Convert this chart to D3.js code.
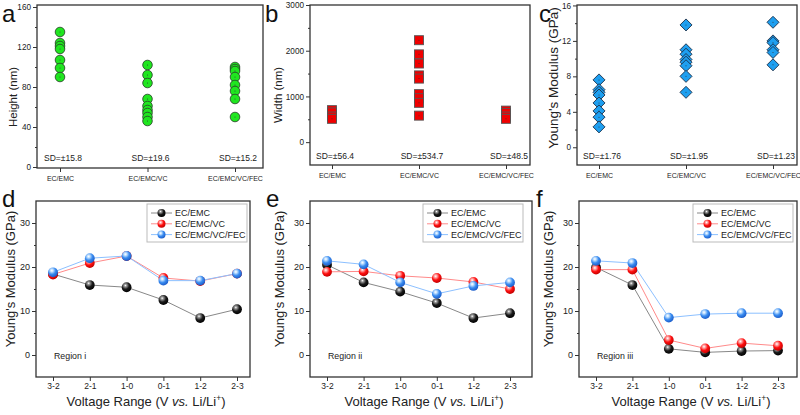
<!DOCTYPE html>
<html><head><meta charset="utf-8">
<script src="https://cdn.jsdelivr.net/npm/d3@7/dist/d3.min.js"></script>
<style>
body{margin:0;background:#fff;}
svg{display:block;font-family:"Liberation Sans",Arial,sans-serif;}
</style></head>
<body>
<svg id="chart" width="800" height="415"></svg>
<script>
// ---------- DATA ----------
const electrolytes = ["EC/EMC", "EC/EMC/VC", "EC/EMC/VC/FEC"];
const heightVals = [
  [135, 124, 121, 118, 107, 99, 90],
  [102, 92, 84, 68, 61, 57, 54, 50, 46],
  [100, 98, 96, 90, 82, 76, 68, 50]
];
const heightSD = ["SD=±15.8", "SD=±19.6", "SD=±15.2"];
const widthVals = [
  [700, 650, 560, 510],
  [2230, 1920, 1720, 1460, 1390, 1050, 960, 860, 580],
  [690, 640, 560, 510]
];
const widthSD = ["SD=±56.4", "SD=±534.7", "SD=±48.5"];
const modulusVals = [
  [7.6, 6.5, 6.2, 5.9, 5.0, 4.1, 3.4, 2.3],
  [13.8, 11.0, 10.5, 9.9, 9.6, 9.2, 8.0, 6.2],
  [14.1, 12.0, 11.8, 11.0, 10.7, 9.3]
];
const modulusSD = ["SD=±1.76", "SD=±1.95", "SD=±1.23"];
const heightTicks = [0, 40, 80, 120, 160];
const widthTicks = [0, 1000, 2000, 3000];
const modulusTicks = [0, 4, 8, 12, 16];

const voltageRanges = ["3-2", "2-1", "1-0", "0-1", "1-2", "2-3"];
const lineTicks = [0, 10, 20, 30];
const regionI = {
  "EC/EMC": [18.4, 15.9, 15.4, 12.5, 8.4, 10.4],
  "EC/EMC/VC": [18.3, 20.9, 22.5, 17.5, 16.8, 18.5],
  "EC/EMC/VC/FEC": [18.8, 22.0, 22.5, 16.9, 16.9, 18.5]
};
const regionII = {
  "EC/EMC": [20.5, 16.5, 14.4, 11.8, 8.4, 9.5],
  "EC/EMC/VC": [18.9, 19.0, 18.0, 17.5, 16.6, 15.0],
  "EC/EMC/VC/FEC": [21.4, 20.6, 16.5, 13.9, 15.7, 16.5]
};
const regionIII = {
  "EC/EMC": [19.9, 15.9, 1.4, 0.6, 0.9, 1.0],
  "EC/EMC/VC": [19.4, 19.4, 3.4, 1.5, 2.7, 2.1],
  "EC/EMC/VC/FEC": [21.4, 20.9, 8.5, 9.3, 9.5, 9.5]
};

// ---------- STYLE ----------
const FONT = '"Liberation Sans",Arial,sans-serif';
const svg = d3.select("#chart");
const defs = svg.append("defs");
const sphereCols = {
  "EC/EMC": {hi: "#9a9a9a", mid: "#1a1a1a", lo: "#000", line: "#888"},
  "EC/EMC/VC": {hi: "#ffb0b0", mid: "#ff1010", lo: "#c00000", line: "#ff8a8a"},
  "EC/EMC/VC/FEC": {hi: "#c8e4ff", mid: "#3a8cf0", lo: "#1a5ac8", line: "#8cc0ff"}
};
Object.entries(sphereCols).forEach(([k, c], i) => {
  const g = defs.append("radialGradient").attr("id", "sph" + i)
    .attr("cx", "0.38").attr("cy", "0.32").attr("r", "0.7");
  g.append("stop").attr("offset", "0").attr("stop-color", "#fff");
  g.append("stop").attr("offset", "0.18").attr("stop-color", c.hi);
  g.append("stop").attr("offset", "0.55").attr("stop-color", c.mid);
  g.append("stop").attr("offset", "1").attr("stop-color", c.lo);
});

function frame(g, box) {
  g.append("rect").attr("x", box.l).attr("y", box.t)
    .attr("width", box.r - box.l).attr("height", box.b - box.t)
    .attr("fill", "none").attr("stroke", "#333").attr("stroke-width", 1.3);
}

function yAxis(g, box, y, ticks, fs) {
  const minor = [];
  for (let i = 0; i < ticks.length - 1; i++) minor.push((ticks[i] + ticks[i + 1]) / 2);
  const ax = g.append("g").attr("transform", `translate(${box.l},0)`)
    .call(d3.axisLeft(y).tickValues(ticks).tickSize(4).tickPadding(2).tickFormat(d3.format("d")));
  ax.select(".domain").remove();
  ax.selectAll("line").attr("stroke", "#333").attr("stroke-width", 1);
  ax.selectAll("text").attr("font-size", fs).attr("fill", "#222").attr("font-family", FONT);
  const mn = g.append("g").attr("transform", `translate(${box.l},0)`)
    .call(d3.axisLeft(y).tickValues(minor).tickSize(2).tickFormat(""));
  mn.select(".domain").remove();
  mn.selectAll("line").attr("stroke", "#333");
}

function xAxis(g, box, x, fs, pad) {
  const ax = g.append("g").attr("transform", `translate(0,${box.b})`)
    .call(d3.axisBottom(x).tickSize(4).tickPadding(pad));
  ax.select(".domain").remove();
  ax.selectAll("line").attr("stroke", "#333").attr("stroke-width", 1);
  ax.selectAll("text").attr("font-size", fs).attr("fill", "#222").attr("font-family", FONT);
}

function yTitle(g, x, y, text, fs) {
  g.append("text").attr("transform", `translate(${x},${y}) rotate(-90)`)
    .attr("text-anchor", "middle").attr("font-size", fs).attr("fill", "#222").text(text);
}

function letter(g, x, y, t) {
  g.append("text").attr("x", x).attr("y", y).attr("font-size", 24)
    .attr("fill", "#111").text(t);
}

// ---------- TOP SCATTER PANELS ----------
function scatterPanel(cfg) {
  const g = svg.append("g");
  const box = cfg.box;
  const x = d3.scalePoint().domain(electrolytes).range(cfg.xr);
  const y = d3.scaleLinear().domain(cfg.yd).range([box.b, box.t]);
  frame(g, box);
  yAxis(g, box, y, cfg.ticks, 8.2);
  xAxis(g, box, x, 7, 4);
  yTitle(g, cfg.titleX, cfg.titleY, cfg.title, cfg.titleFs);
  g.selectAll(".sd").data(cfg.sd).enter().append("text")
    .attr("x", (d, i) => x(electrolytes[i]) + 3).attr("y", cfg.sdY)
    .attr("text-anchor", "middle").attr("font-size", 8.5).attr("fill", "#222").text(d => d);
  cfg.vals.forEach((arr, i) => {
    arr.forEach(v => {
      const cx = x(electrolytes[i]), cy = y(v);
      cfg.marker(g, cx, cy);
      g.append("circle").attr("cx", cx).attr("cy", cy).attr("r", 0.5).attr("fill", "#333");
    });
  });
  letter(g, cfg.letter[0], cfg.letter[1], cfg.letter[2]);
}

scatterPanel({
  box: {l: 37, r: 263, t: 5, b: 168}, xr: [60, 235], yd: [-1, 162],
  ticks: heightTicks, vals: heightVals, sd: heightSD, sdY: 161,
  title: "Height (nm)", titleX: 17, titleY: 97, titleFs: 11.5, letter: [2, 22, "a"],
  marker: (g, cx, cy) => g.append("circle").attr("cx", cx).attr("cy", cy).attr("r", 4.8)
    .attr("fill", "#1fe61f").attr("stroke", "#2a3a2a").attr("stroke-width", 0.8)
});
scatterPanel({
  box: {l: 310, r: 530, t: 5, b: 165}, xr: [332, 506], yd: [-500, 3000],
  ticks: widthTicks, vals: widthVals, sd: widthSD, sdY: 159,
  title: "Width (nm)", titleX: 282, titleY: 95, titleFs: 11.5, letter: [265, 22, "b"],
  marker: (g, cx, cy) => g.append("rect").attr("x", cx - 4.5).attr("y", cy - 4.5)
    .attr("width", 9).attr("height", 9)
    .attr("fill", "#f00000").attr("stroke", "#555").attr("stroke-width", 0.9)
});
scatterPanel({
  box: {l: 577, r: 797, t: 5, b: 165}, xr: [599, 773], yd: [-2, 16.05],
  ticks: modulusTicks, vals: modulusVals, sd: modulusSD, sdY: 159,
  title: "Young's Modulus (GPa)", titleX: 558, titleY: 78, titleFs: 13.5, letter: [539, 22, "c"],
  marker: (g, cx, cy) => g.append("path")
    .attr("d", `M${cx},${cy - 6}L${cx + 6},${cy}L${cx},${cy + 6}L${cx - 6},${cy}Z`)
    .attr("fill", "#1e9ff0").attr("stroke", "#1a2f48").attr("stroke-width", 0.9)
});

// ---------- BOTTOM LINE PANELS ----------
function linePanel(cfg) {
  const g = svg.append("g");
  const box = cfg.box;
  const x = d3.scalePoint().domain(voltageRanges).range(cfg.xr);
  const y = d3.scaleLinear().domain([-5, 35]).range([box.b, box.t]);
  frame(g, box);
  yAxis(g, box, y, lineTicks, 9);
  xAxis(g, box, x, 8.5, 2);
  yTitle(g, cfg.titleX, 279, "Young's Modulus (GPa)", 13);
  const xt = g.append("text").attr("x", (box.l + box.r) / 2 + 3).attr("y", 406)
    .attr("text-anchor", "middle").attr("font-size", 13).attr("fill", "#222");
  xt.append("tspan").text("Voltage Range (V ");
  xt.append("tspan").attr("font-style", "italic").text("vs.");
  xt.append("tspan").text(" Li/Li");
  xt.append("tspan").attr("font-size", 8.5).attr("dy", -5).text("+");
  xt.append("tspan").attr("dy", 5).text(")");
  g.append("text").attr("x", box.l + 18).attr("y", 359).attr("font-size", 8.8)
    .attr("fill", "#222").text(cfg.region);
  const keys = Object.keys(cfg.data);
  const line = d3.line().x((d, i) => x(voltageRanges[i])).y(d => y(d));
  keys.forEach(k => {
    g.append("path").attr("d", line(cfg.data[k])).attr("fill", "none")
      .attr("stroke", sphereCols[k].line).attr("stroke-width", 1);
  });
  keys.forEach((k, ki) => {
    cfg.data[k].forEach((v, i) => {
      g.append("circle").attr("cx", x(voltageRanges[i])).attr("cy", y(v)).attr("r", 4.9)
        .attr("fill", `url(#sph${ki})`);
    });
  });
  const lg = cfg.legend;
  g.append("rect").attr("x", lg.x).attr("y", lg.y).attr("width", lg.w).attr("height", 38)
    .attr("fill", "#fff").attr("stroke", "#bbb").attr("stroke-width", 1);
  keys.forEach((k, ki) => {
    const yy = lg.y + 9 + ki * 10.8;
    g.append("line").attr("x1", lg.x + 4).attr("x2", lg.x + 25).attr("y1", yy).attr("y2", yy)
      .attr("stroke", sphereCols[k].line).attr("stroke-width", 1);
    g.append("circle").attr("cx", lg.x + 14.5).attr("cy", yy).attr("r", 4)
      .attr("fill", `url(#sph${ki})`);
    g.append("text").attr("x", lg.x + 28).attr("y", yy + 3.3).attr("font-size", 9)
      .attr("fill", "#222").text(k);
  });
  letter(g, cfg.letter[0], cfg.letter[1], cfg.letter[2]);
}

linePanel({
  box: {l: 36, r: 250, t: 201, b: 377}, xr: [53, 237], data: regionI,
  region: "Region i", titleX: 15, legend: {x: 147, y: 204, w: 100},
  letter: [2, 207, "d"]
});
linePanel({
  box: {l: 310, r: 532, t: 201, b: 377}, xr: [327, 510], data: regionII,
  region: "Region ii", titleX: 284, legend: {x: 423, y: 204, w: 100},
  letter: [266, 207, "e"]
});
linePanel({
  box: {l: 579, r: 797, t: 201, b: 377}, xr: [596, 778], data: regionIII,
  region: "Region iii", titleX: 553, legend: {x: 693, y: 204, w: 100},
  letter: [536, 207, "f"]
});
</script>
</body></html>
